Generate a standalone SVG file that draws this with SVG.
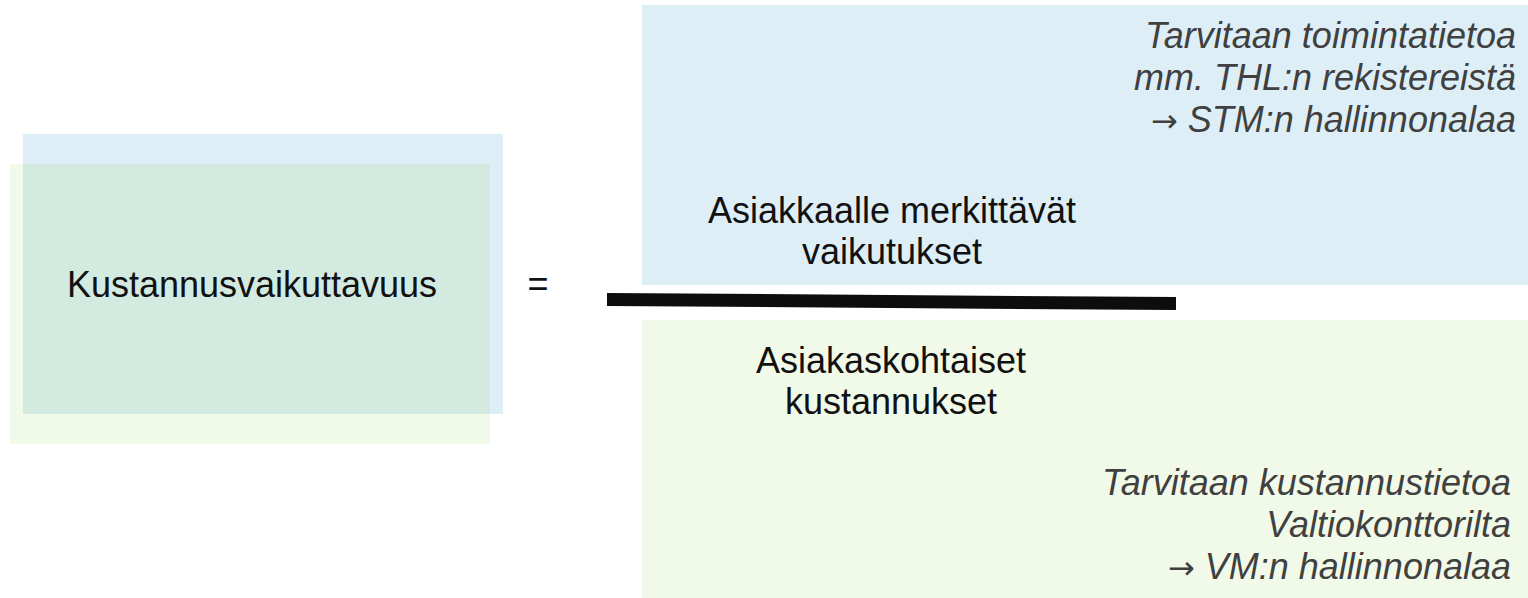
<svg xmlns="http://www.w3.org/2000/svg" width="1528" height="598" viewBox="0 0 1528 598">
<style>
.t{font-family:"Liberation Sans",Arial,sans-serif;font-size:36px;fill:#111}
.i{font-family:"Liberation Sans",Arial,sans-serif;font-size:36px;font-style:italic;fill:#404040;text-anchor:end}
.ar{font-family:"DejaVu Sans",sans-serif;font-style:normal;font-size:32px}
.c{text-anchor:middle}
.blue{fill:#DDEEF7}
.green{fill:#92D050;fill-opacity:0.13}
</style>
<rect width="1528" height="598" fill="#fff"/>
<g id="left-node">
<rect class="blue" x="23" y="134" width="480" height="280"/>
<rect class="green" x="10" y="164" width="480" height="280"/>
<text class="t c" x="252" y="297">Kustannusvaikuttavuus</text>
</g>
<g id="equals">
<text class="t c" x="538" y="296">=</text>
</g>
<g id="numerator">
<rect class="blue" x="642" y="5" width="886" height="280"/>
<text class="t c" x="892" y="223">Asiakkaalle merkittävät</text>
<text class="t c" x="892" y="264">vaikutukset</text>
<text class="i" x="1516" y="48">Tarvitaan toimintatietoa</text>
<text class="i" x="1516" y="90">mm. THL:n rekistereistä</text>
<text class="i" x="1516" y="132"><tspan class="ar">→</tspan> STM:n hallinnonalaa</text>
</g>
<g id="denominator">
<rect class="green" x="642" y="320" width="886" height="278"/>
<text class="t c" x="891" y="373">Asiakaskohtaiset</text>
<text class="t c" x="891" y="414">kustannukset</text>
<text class="i" x="1511" y="495">Tarvitaan kustannustietoa</text>
<text class="i" x="1511" y="537">Valtiokonttorilta</text>
<text class="i" x="1511" y="579"><tspan class="ar">→</tspan> VM:n hallinnonalaa</text>
</g>
<g id="connectors">
<polygon points="607,293 1176,297 1176,310 607,306" fill="#0D0D0D"/>
</g>
</svg>
